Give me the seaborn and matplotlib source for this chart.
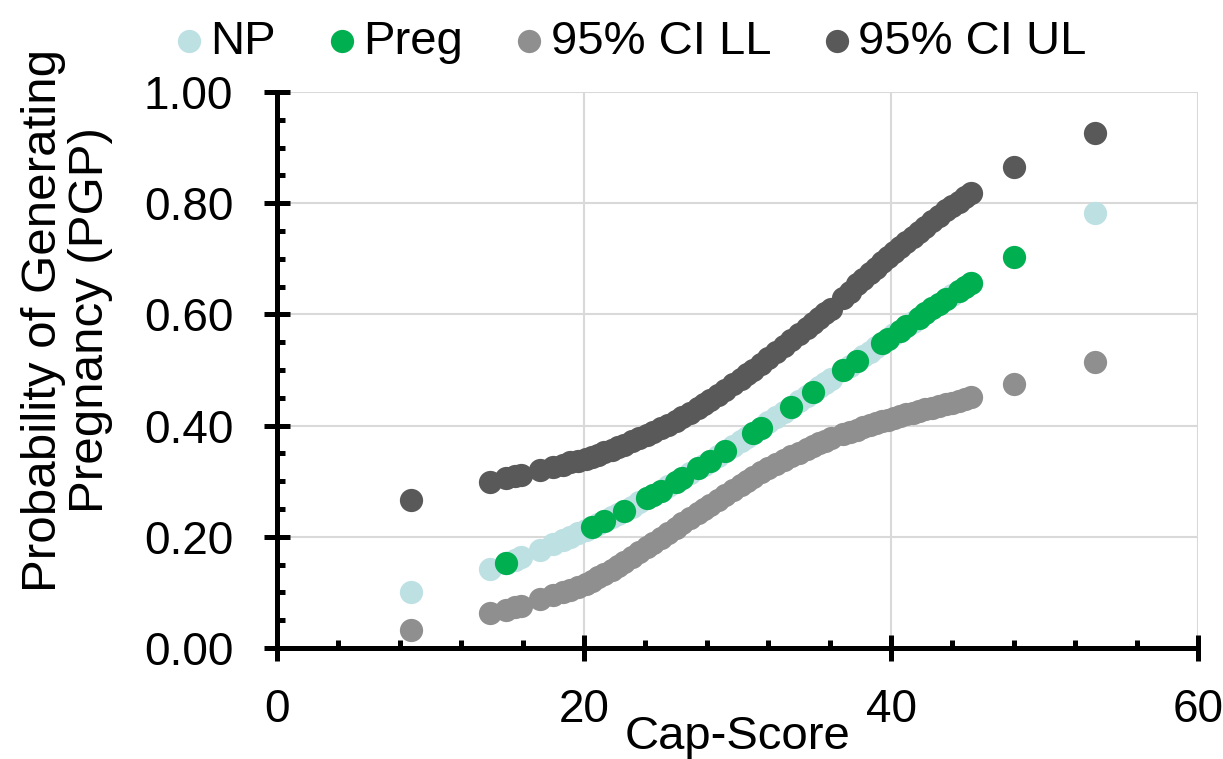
import numpy as np
import pandas as pd
import matplotlib
matplotlib.use("Agg")
import matplotlib.pyplot as plt
from matplotlib.ticker import MultipleLocator, FormatStrFormatter
import seaborn as sns

# cap-score values shared by the confidence limits
cap_ci = [8.7, 13.9, 14.9, 15.5, 15.9, 17.1, 18.0, 18.6, 19.1, 19.6,
          20.1, 20.5, 20.9, 21.3, 21.8, 22.2, 22.6, 23.1, 23.6, 24.1,
          24.5, 25.0, 25.5, 26.0, 26.4, 26.9, 27.4, 27.8, 28.2, 28.7,
          29.2, 29.7, 30.2, 30.6, 31.0, 31.5, 32.0, 32.5, 33.0, 33.5,
          34.0, 34.5, 34.9, 35.3, 35.7, 36.1, 36.9, 37.3, 37.8, 38.2,
          38.6, 39.0, 39.4, 39.8, 40.2, 40.6, 41.0, 41.4, 41.8, 42.2,
          42.7, 43.1, 43.6, 44.0, 44.4, 44.8, 45.2, 48.0, 53.3]
ci_ll = [0.032, 0.063, 0.069, 0.073, 0.076, 0.088, 0.095, 0.100, 0.105, 0.110,
         0.115, 0.121, 0.127, 0.133, 0.141, 0.148, 0.155, 0.163, 0.172, 0.181,
         0.189, 0.198, 0.207, 0.216, 0.224, 0.233, 0.242, 0.250, 0.258, 0.267,
         0.276, 0.285, 0.294, 0.301, 0.308, 0.316, 0.324, 0.331, 0.338, 0.345,
         0.351, 0.358, 0.363, 0.368, 0.373, 0.377, 0.385, 0.389, 0.393, 0.397,
         0.401, 0.404, 0.408, 0.411, 0.414, 0.417, 0.420, 0.423, 0.426, 0.429,
         0.432, 0.435, 0.438, 0.441, 0.444, 0.447, 0.451, 0.475, 0.514]
ci_ul = [0.266, 0.299, 0.306, 0.309, 0.312, 0.320, 0.326, 0.330, 0.334, 0.337,
         0.340, 0.344, 0.348, 0.352, 0.357, 0.361, 0.366, 0.372, 0.378, 0.384,
         0.389, 0.395, 0.402, 0.409, 0.415, 0.423, 0.431, 0.438, 0.446, 0.455,
         0.464, 0.474, 0.484, 0.492, 0.500, 0.510, 0.521, 0.532, 0.543, 0.554,
         0.565, 0.576, 0.585, 0.594, 0.602, 0.610, 0.630, 0.641, 0.654, 0.664,
         0.674, 0.684, 0.694, 0.703, 0.713, 0.722, 0.731, 0.740, 0.749, 0.758,
         0.768, 0.777, 0.787, 0.795, 0.803, 0.811, 0.818, 0.865, 0.926]

# non-pregnant
cap_np = [8.7, 13.9, 14.9, 15.5, 15.9, 17.1, 18.0, 18.6, 19.1, 19.6,
          20.1, 20.5, 20.9, 21.3, 21.8, 22.2, 22.6, 23.1, 23.6, 24.1,
          24.5, 25.0, 25.5, 26.0, 26.4, 26.9, 27.4, 27.8, 28.2, 28.7,
          29.2, 29.7, 30.2, 30.6, 31.0, 31.5, 32.0, 32.5, 33.0, 33.5,
          34.0, 34.5, 34.9, 35.3, 35.7, 36.1, 36.9, 37.3, 37.8, 38.2,
          38.6, 39.0, 39.4, 39.8, 40.2, 40.6, 41.0, 41.4, 41.8, 42.2,
          42.7, 43.1, 43.6, 44.0, 44.4, 44.8, 45.2, 53.3]
pgp_np = [0.100, 0.143, 0.153, 0.159, 0.163, 0.176, 0.187, 0.194, 0.200, 0.206,
          0.213, 0.218, 0.223, 0.229, 0.236, 0.241, 0.247, 0.254, 0.262, 0.269,
          0.276, 0.283, 0.291, 0.299, 0.306, 0.314, 0.323, 0.330, 0.337, 0.346,
          0.354, 0.363, 0.372, 0.380, 0.387, 0.396, 0.406, 0.415, 0.425, 0.434,
          0.444, 0.453, 0.461, 0.469, 0.477, 0.484, 0.500, 0.508, 0.517, 0.525,
          0.533, 0.541, 0.548, 0.556, 0.564, 0.571, 0.579, 0.587, 0.594, 0.602,
          0.611, 0.618, 0.627, 0.635, 0.642, 0.649, 0.656, 0.782]

# pregnant
cap_preg = [14.9, 20.5, 21.3, 22.6, 24.1, 24.5, 25.0, 26.0, 26.4, 27.4,
            28.2, 29.2, 31.0, 31.5, 33.5, 34.9, 36.9, 37.8, 39.4, 39.8,
            40.6, 41.0, 41.8, 42.2, 42.7, 43.1, 43.6, 44.4, 44.8, 45.2, 48.0]
pgp_preg = [0.153, 0.218, 0.229, 0.247, 0.269, 0.276, 0.283, 0.299, 0.306, 0.323,
            0.337, 0.354, 0.387, 0.396, 0.434, 0.461, 0.500, 0.517, 0.548, 0.556,
            0.571, 0.579, 0.594, 0.602, 0.611, 0.618, 0.627, 0.642, 0.649, 0.656, 0.704]

series = [
    ("NP", cap_np, pgp_np, "#bde0e3"),
    ("Preg", cap_preg, pgp_preg, "#00b050"),
    ("95% CI LL", cap_ci, ci_ll, "#8f8f8f"),
    ("95% CI UL", cap_ci, ci_ul, "#595959"),
]

sns.set_style("white")
plt.rcParams["font.family"] = ["Liberation Sans", "DejaVu Sans"]
plt.rcParams["text.color"] = "black"
plt.rcParams["axes.labelcolor"] = "black"
plt.rcParams["xtick.color"] = "black"
plt.rcParams["ytick.color"] = "black"

fig = plt.figure(figsize=(12.23, 7.59), dpi=100)
ax = fig.add_axes([0.2265, 0.1462, 0.7531, 0.7326])

for name, xs, ys, col in series:
    df = pd.DataFrame({"cap": xs, "pgp": ys})
    sns.scatterplot(data=df, x="cap", y="pgp", ax=ax, color=col, s=280,
                    linewidth=0, label=name, legend=False)

ax.set_xlim(0, 60)
ax.set_ylim(0, 1)
ax.xaxis.set_major_locator(MultipleLocator(20))
ax.xaxis.set_minor_locator(MultipleLocator(4))
ax.yaxis.set_major_locator(MultipleLocator(0.2))
ax.yaxis.set_minor_locator(MultipleLocator(0.05))
ax.yaxis.set_major_formatter(FormatStrFormatter("%.2f"))

ax.grid(True, which="major", color="#d9d9d9", linewidth=1.5)
ax.set_axisbelow(True)
for side in ["top", "right"]:
    ax.spines[side].set_visible(False)
for side in ["left", "bottom"]:
    ax.spines[side].set_linewidth(3.6)
    ax.spines[side].set_color("black")

ax.tick_params(which="both", bottom=True, left=True, top=False, right=False)
ax.tick_params(which="major", direction="inout", length=19, width=3.6,
               labelsize=33, colors="black")
ax.tick_params(axis="y", which="major", pad=22)
ax.tick_params(axis="x", which="major", pad=19)
ax.tick_params(which="minor", direction="in", length=6, width=3.6,
               colors="black")

ax.set_xlabel("Cap-Score", fontsize=34)
ax.xaxis.set_label_coords(0.5, -0.12)
ax.xaxis.label.set_va("top")
ax.set_ylabel("Probability of Generating\nPregnancy (PGP)", fontsize=35.5,
              linespacing=1.05)
ax.yaxis.set_label_coords(-0.178, 0.59)

handles, labels = ax.get_legend_handles_labels()
fig.legend(handles, labels, loc="center", bbox_to_anchor=(0.513, 0.945),
           ncol=4, frameon=False, fontsize=34, handletextpad=0.0,
           columnspacing=0.95, handlelength=0.9)

fig.savefig("out.png", dpi=100)
